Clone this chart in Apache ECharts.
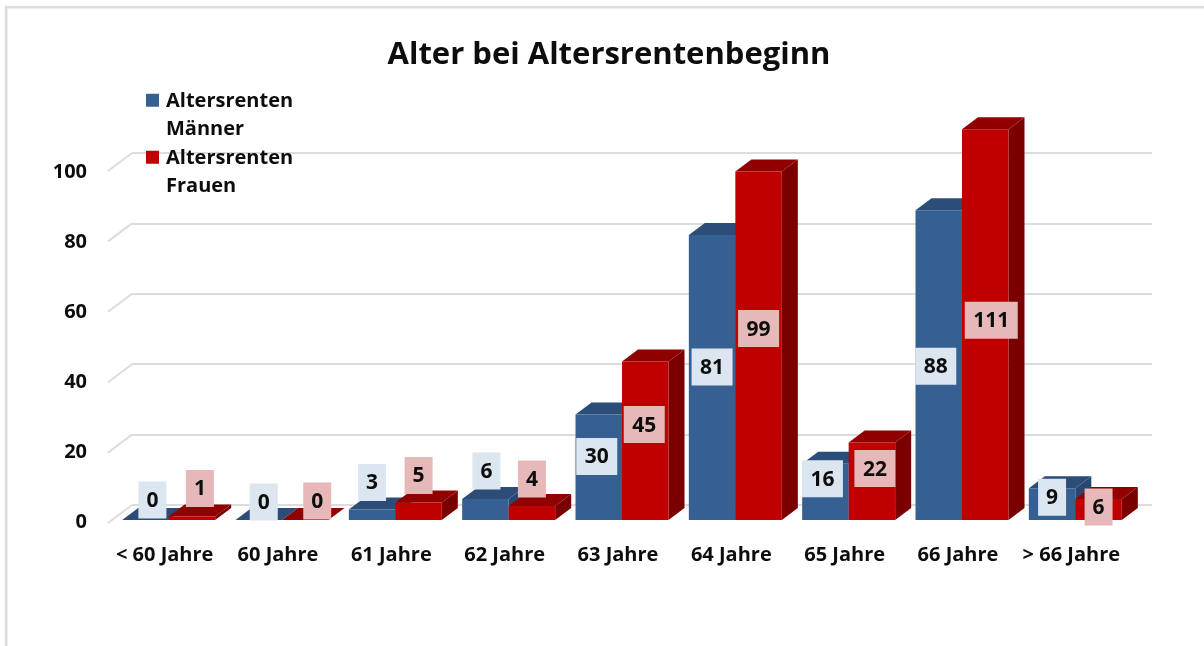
<!DOCTYPE html>
<html lang="de">
<head>
    <meta charset="UTF-8">
    <title>Alter bei Altersrentenbeginn</title>
    <script src="https://cdn.jsdelivr.net/npm/echarts@6/dist/echarts.min.js"></script>
    <style>
        html, body { margin: 0; padding: 0; background: #fff; }
        #chart { width: 1204px; height: 646px; }
    </style>
</head>
<body>
<div id="chart"></div>
<script>
    const categories = ['< 60 Jahre', '60 Jahre', '61 Jahre', '62 Jahre', '63 Jahre', '64 Jahre', '65 Jahre', '66 Jahre', '> 66 Jahre'];
    const maenner = [0, 0, 3, 6, 30, 81, 16, 88, 9];
    const frauen = [1, 0, 5, 4, 45, 99, 22, 111, 6];
    const yTicks = [0, 20, 40, 60, 80, 100];

    // hand placed data labels in the original: [dx, dy] from the top middle of the bar front
    const labelShiftMaenner = [[7, -20], [5, -18], [0, -27], [1, -28], [-2, 42], [0, 132], [-3, 15], [-3, 156], [0, 9]];
    const labelShiftFrauen = [[8, -28], [12, -19], [0, -27], [0, -27], [-1, 63], [0, 157], [3, 26], [6, 191], [0, 8]];

    const FONT = '"Open Sans", sans-serif';
    const TEXT = '#0d0d0d';
    const BAR_W = 46.5;
    const DEPTH_X = 16;
    const DEPTH_Y = 12;
    // square in the top of a taller box, so it sits next to the first legend line
    const LEGEND_ICON = 'path://M0 0H13V13H0Z M15 43.5L15 43.5Z';

    function poly(points, fill) {
        return { type: 'polygon', shape: { points: points }, style: { fill: fill } };
    }

    // one 3D column: side, top, then front
    function barRenderer(slot, front, top, side) {
        return function (params, api) {
            const base = api.coord([api.value(0), 0]);
            const head = api.coord([api.value(0), api.value(1)]);
            const x0 = base[0] + slot * BAR_W;
            const x1 = x0 + BAR_W;
            const y0 = base[1];
            const y1 = head[1];
            return {
                type: 'group',
                children: [
                    poly([[x1, y0], [x1 + DEPTH_X, y0 - DEPTH_Y], [x1 + DEPTH_X, y1 - DEPTH_Y], [x1, y1]], side),
                    poly([[x0, y1], [x0 + DEPTH_X, y1 - DEPTH_Y], [x1 + DEPTH_X, y1 - DEPTH_Y], [x1, y1]], top),
                    { type: 'rect', shape: { x: x0, y: y1, width: BAR_W, height: y0 - y1 }, style: { fill: front } }
                ]
            };
        };
    }

    function labelRenderer(slot, shifts, boxColor) {
        return function (params, api) {
            const head = api.coord([api.value(0), api.value(1)]);
            const text = String(api.value(1));
            const w = text.length === 1 ? 28 : (text.length === 2 ? 41 : 53);
            const h = 37;
            const shift = shifts[params.dataIndex];
            const cx = head[0] + (slot + 0.5) * BAR_W + shift[0];
            const cy = head[1] + shift[1];
            return {
                type: 'group',
                children: [
                    { type: 'rect', z2: 10, shape: { x: cx - w / 2, y: cy - h / 2, width: w, height: h }, style: { fill: boxColor } },
                    {
                        type: 'text', z2: 11, x: cx, y: cy + 1,
                        style: { text: text, align: 'center', verticalAlign: 'middle', fill: TEXT, font: '700 21px ' + FONT }
                    }
                ]
            };
        };
    }

    function wallRenderer(params, api) {
        const p = api.coord([0, api.value(0)]);
        return {
            type: 'line',
            shape: { x1: p[0], y1: p[1], x2: p[0] - 24, y2: p[1] + 18 },
            style: { stroke: '#dcdcdc', lineWidth: 2 }
        };
    }

    const chart = echarts.init(document.getElementById('chart'), null, { renderer: 'canvas' });
    chart.setOption({
        animation: false,
        backgroundColor: '#fff',
        title: {
            text: 'Alter bei Altersrentenbeginn',
            left: 604, top: 35, textAlign: 'center',
            textStyle: { color: TEXT, fontFamily: FONT, fontWeight: 700, fontSize: 31 }
        },
        legend: {
            data: ['Altersrenten\nMänner', 'Altersrenten\nFrauen'],
            orient: 'vertical', left: 146, top: 87, padding: 0, itemGap: 0,
            selectedMode: false, icon: LEGEND_ICON, itemWidth: 15, itemHeight: 43.5,
            textStyle: { color: TEXT, fontFamily: FONT, fontWeight: 700, fontSize: 20, lineHeight: 28.5 }
        },
        graphic: [{
            type: 'polyline', silent: true,
            shape: { points: [[6.2, 646], [6.2, 7.3], [1204, 7.3]] },
            style: { stroke: '#dbdbdb', lineWidth: 2.5, fill: null }
        }],
        grid: [
            // back wall of the 3D plot, carries the grid lines
            { left: 132, top: 153, width: 1020, height: 352 },
            // front plane, carries the columns and the labels
            { left: 112, top: 168, width: 1020, height: 352 },
            // the y labels sit a little lower and tighter than the columns' plane
            { left: 112, top: 172, width: 1020, height: 350 }
        ],
        xAxis: [
            { gridIndex: 0, type: 'value', min: 0, max: 1, show: false },
            {
                gridIndex: 1, type: 'category', data: categories,
                axisLine: { show: false }, axisTick: { show: false },
                axisLabel: { interval: 0, margin: 25, padding: [0, 8, 0, 0], color: TEXT, fontFamily: FONT, fontWeight: 700, fontSize: 20 }
            },
            { gridIndex: 2, type: 'value', min: 0, max: 1, show: false }
        ],
        yAxis: [
            {
                gridIndex: 0, type: 'value', min: 0, max: 100, interval: 20,
                axisLine: { show: false }, axisTick: { show: false }, axisLabel: { show: false },
                splitLine: { lineStyle: { color: '#dcdcdc', width: 2 } }
            },
            { gridIndex: 1, type: 'value', min: 0, max: 100, interval: 20, show: false },
            {
                gridIndex: 2, type: 'value', min: 0, max: 100, interval: 20,
                axisLine: { show: false }, axisTick: { show: false }, splitLine: { show: false },
                axisLabel: { margin: 25, color: TEXT, fontFamily: FONT, fontWeight: 700, fontSize: 20 }
            }
        ],
        series: [
            {
                type: 'custom', xAxisIndex: 0, yAxisIndex: 0, silent: true,
                renderItem: wallRenderer, data: yTicks.map(v => [v]), encode: { y: 0 }
            },
            {
                name: 'Altersrenten\nMänner', type: 'custom', xAxisIndex: 1, yAxisIndex: 1,
                itemStyle: { color: '#376092' }, clip: false,
                renderItem: barRenderer(-1, '#376092', '#2c4d77', '#294670'),
                data: maenner.map((v, i) => [i, v]), encode: { x: 0, y: 1 }
            },
            {
                name: 'Altersrenten\nFrauen', type: 'custom', xAxisIndex: 1, yAxisIndex: 1,
                itemStyle: { color: '#c00000' }, clip: false,
                renderItem: barRenderer(0, '#c00000', '#900000', '#7a0000'),
                data: frauen.map((v, i) => [i, v]), encode: { x: 0, y: 1 }
            },
            {
                type: 'custom', xAxisIndex: 1, yAxisIndex: 1, silent: true,
                renderItem: labelRenderer(-1, labelShiftMaenner, '#dce6f1'),
                data: maenner.map((v, i) => [i, v]), encode: { x: 0, y: 1 }
            },
            {
                type: 'custom', xAxisIndex: 1, yAxisIndex: 1, silent: true,
                renderItem: labelRenderer(0, labelShiftFrauen, '#e6b8b7'),
                data: frauen.map((v, i) => [i, v]), encode: { x: 0, y: 1 }
            }
        ]
    });
</script>
</body>
</html>
